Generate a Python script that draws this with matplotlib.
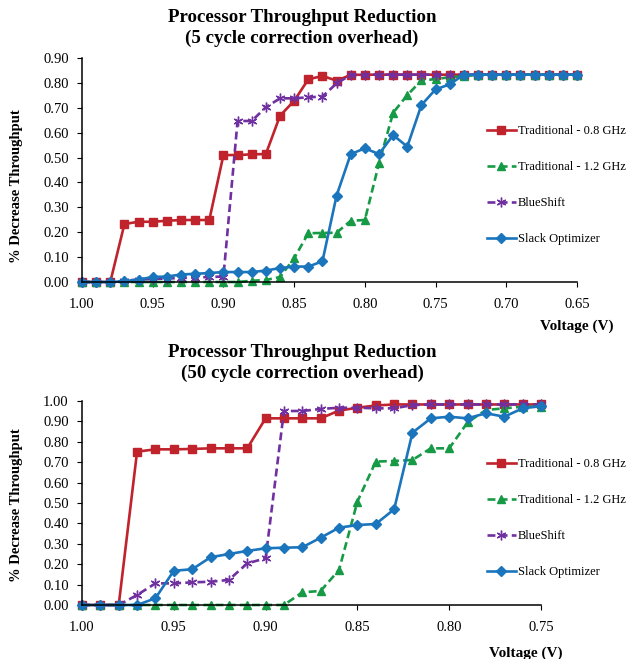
import matplotlib
matplotlib.use("Agg")
import matplotlib.pyplot as plt
from matplotlib.ticker import FormatStrFormatter

plt.rcParams['font.family'] = ['Liberation Serif', 'DejaVu Serif']

# voltages (V)
volt_5 = [1.00, 0.99, 0.98, 0.97, 0.96, 0.95, 0.94, 0.93, 0.92, 0.91,
          0.90, 0.89, 0.88, 0.87, 0.86, 0.85, 0.84, 0.83, 0.82, 0.81,
          0.80, 0.79, 0.78, 0.77, 0.76, 0.75, 0.74, 0.73, 0.72, 0.71,
          0.70, 0.69, 0.68, 0.67, 0.66, 0.65]
volt_50 = [1.00, 0.99, 0.98, 0.97, 0.96, 0.95, 0.94, 0.93, 0.92, 0.91,
           0.90, 0.89, 0.88, 0.87, 0.86, 0.85, 0.84, 0.83, 0.82, 0.81,
           0.80, 0.79, 0.78, 0.77, 0.76, 0.75]

labels = ["Traditional - 0.8 GHz", "Traditional - 1.2 GHz", "BlueShift", "Slack Optimizer"]

# 5 cycle correction overhead
trad08_5 = [0, 0, 0, 0.233, 0.242, 0.242, 0.246, 0.249, 0.249, 0.249,
            0.51, 0.51, 0.513, 0.514, 0.668, 0.728, 0.814, 0.828, 0.809, 0.832,
            0.833, 0.833, 0.833, 0.833, 0.833, 0.833, 0.833, 0.833, 0.833, 0.833,
            0.833, 0.833, 0.833, 0.833, 0.833, 0.833]
trad12_5 = [0, 0, 0, 0, 0, 0, 0, 0, 0, 0,
            0, 0, 0.005, 0.008, 0.02, 0.095, 0.196, 0.197, 0.198, 0.246,
            0.249, 0.477, 0.68, 0.751, 0.81, 0.815, 0.823, 0.826, 0.833, 0.833,
            0.833, 0.833, 0.833, 0.833, 0.833, 0.833]
blueshift_5 = [0, 0, 0, 0.005, 0.01, 0.012, 0.014, 0.016, 0.018, 0.02,
               0.022, 0.647, 0.647, 0.702, 0.738, 0.738, 0.742, 0.745, 0.798, 0.832,
               0.833, 0.833, 0.833, 0.833, 0.833, 0.833, 0.833, 0.833, 0.833, 0.833,
               0.833, 0.833, 0.833, 0.833, 0.833, 0.833]
slack_5 = [0, 0, 0, 0.003, 0.01, 0.02, 0.022, 0.03, 0.033, 0.036,
           0.04, 0.04, 0.04, 0.046, 0.056, 0.062, 0.062, 0.083, 0.347, 0.514,
           0.537, 0.514, 0.59, 0.544, 0.711, 0.774, 0.794, 0.833, 0.833, 0.833,
           0.833, 0.833, 0.833, 0.833, 0.833, 0.833]

# 50 cycle correction overhead
trad08_50 = [0, 0, 0, 0.752, 0.763, 0.763, 0.765, 0.768, 0.768, 0.768,
             0.915, 0.915, 0.915, 0.915, 0.953, 0.967, 0.978, 0.983, 0.983, 0.983,
             0.983, 0.983, 0.983, 0.983, 0.983, 0.983]
trad12_50 = [0, 0, 0, 0, 0, 0, 0, 0, 0, 0,
             0, 0, 0.062, 0.069, 0.172, 0.507, 0.703, 0.706, 0.711, 0.768,
             0.768, 0.895, 0.956, 0.964, 0.972, 0.972]
blueshift_50 = [0, 0, 0, 0.049, 0.106, 0.106, 0.111, 0.114, 0.123, 0.204,
                0.229, 0.951, 0.951, 0.961, 0.967, 0.967, 0.964, 0.964, 0.98, 0.983,
                0.983, 0.983, 0.983, 0.983, 0.983, 0.983]
slack_50 = [0, 0, 0, 0, 0.033, 0.168, 0.175, 0.234, 0.25, 0.265,
            0.278, 0.281, 0.283, 0.33, 0.379, 0.392, 0.397, 0.469, 0.845, 0.915,
            0.923, 0.915, 0.94, 0.923, 0.964, 0.975]

colors = ["#C0232C", "#179A45", "#7030A0", "#1B75BC"]
markers = ["s", "^", (6, 2, 0), "D"]
sizes = [5.5, 6, 7, 5]
dashed = [False, True, True, False]

W, H = 627, 659
fig = plt.figure(figsize=(W / 100, H / 100), dpi=100)


def draw(box, volts, series, xlim, xticks, ylim, yticks, title, title_y, ylab_y, xlab_pos, leg_y):
    ax = fig.add_axes(box)
    for k in range(4):
        kw = dict(color=colors[k], marker=markers[k], markersize=sizes[k], lw=1.9,
                  label=labels[k], clip_on=False, markeredgewidth=1.0)
        if dashed[k]:
            kw['dashes'] = (3, 1.6)
        ax.plot(volts, series[k], **kw)
    ax.set_xlim(*xlim)
    ax.set_ylim(*ylim)
    ax.set_xticks(xticks)
    ax.set_yticks(yticks)
    ax.xaxis.set_major_formatter(FormatStrFormatter('%.2f'))
    ax.yaxis.set_major_formatter(FormatStrFormatter('%.2f'))
    ax.spines['top'].set_visible(False)
    ax.spines['right'].set_visible(False)
    for s in ('left', 'bottom'):
        ax.spines[s].set_linewidth(1.1)
    ax.tick_params(direction='out', length=3.5, width=0.8, labelsize=10.5, pad=6)
    ax.tick_params(axis='x', pad=8)

    fig.text(302 / W, 1 - title_y / H, title, ha='center', va='center',
             fontsize=13.6, fontweight='bold', linespacing=1.35)
    fig.text(17 / W, 1 - ylab_y / H, "% Decrease Throughput", rotation=90,
             ha='center', va='center', fontsize=10.5, fontweight='bold')
    fig.text(xlab_pos[0] / W, 1 - xlab_pos[1] / H, "Voltage (V)", ha='center', va='center',
             fontsize=11, fontweight='bold')
    ax.legend(loc='upper left', bbox_to_anchor=(487 / W, 1 - leg_y / H),
              bbox_transform=fig.transFigure, frameon=False, fontsize=9.0,
              handlelength=2.3, handletextpad=0.15, labelspacing=1.92,
              borderaxespad=0, borderpad=0)
    return ax


draw([82 / W, 1 - 282 / H, 495 / W, 224 / H], volt_5,
     [trad08_5, trad12_5, blueshift_5, slack_5],
     (1.0, 0.65), [1.00, 0.95, 0.90, 0.85, 0.80, 0.75, 0.70, 0.65],
     (0, 0.9), [0.0, 0.1, 0.2, 0.3, 0.4, 0.5, 0.6, 0.7, 0.8, 0.9],
     "Processor Throughput Reduction\n(5 cycle correction overhead)", 28, 186,
     (577, 326), 125)

draw([82 / W, 1 - 605 / H, 459 / W, 204 / H], volt_50,
     [trad08_50, trad12_50, blueshift_50, slack_50],
     (1.0, 0.75), [1.00, 0.95, 0.90, 0.85, 0.80, 0.75],
     (0, 1.0), [0.0, 0.1, 0.2, 0.3, 0.4, 0.5, 0.6, 0.7, 0.8, 0.9, 1.0],
     "Processor Throughput Reduction\n(50 cycle correction overhead)", 363, 505,
     (526, 653), 458)

fig.savefig("out.png", dpi=100)
